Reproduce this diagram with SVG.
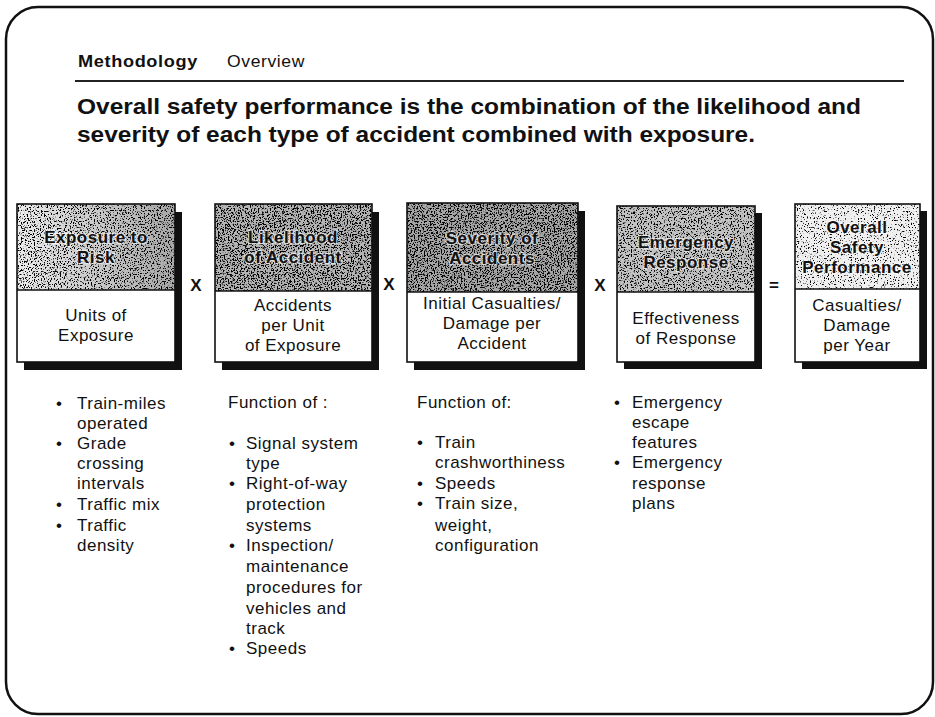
<svg xmlns="http://www.w3.org/2000/svg" width="935" height="717" viewBox="0 0 935 717">
<style>
  text { font-family: "Liberation Sans", Arial, Helvetica, sans-serif; fill: #111; }
  .hd { font-size: 17px; font-weight: bold; letter-spacing: 0.6px; }
  .hd2 { font-size: 17px; letter-spacing: 0.6px; }
  .title { font-size: 22px; font-weight: bold; }
  .bh { font-size: 17px; font-weight: bold; text-anchor: middle; letter-spacing: 0.5px; paint-order: stroke; stroke: #fff; stroke-opacity: 0.6; stroke-width: 2.5px; stroke-linejoin: round; }
  .bl { font-size: 17px; text-anchor: middle; letter-spacing: 0.5px; }
  .op { font-size: 17px; font-weight: bold; text-anchor: middle; }
  .li { font-size: 17px; letter-spacing: 0.5px; }
  .frame { fill: none; stroke: #111; stroke-width: 2.5; }
  .box { fill: none; stroke: #111; stroke-width: 1.6; }
  .lower { fill: #fff; }
  .shadow { fill: #111; }
</style>
<defs>
  <linearGradient id="g1" x1="0" y1="0" x2="1" y2="0">
    <stop offset="0" stop-color="#ececec"/>
    <stop offset="1" stop-color="#a8a8a8"/>
  </linearGradient>
  <filter id="dense" x="0" y="0" width="100%" height="100%" color-interpolation-filters="sRGB">
    <feTurbulence type="fractalNoise" baseFrequency="0.7" numOctaves="2" seed="4" result="n"/>
    <feColorMatrix in="n" type="matrix" values="0 0 0 0 0  0 0 0 0 0  0 0 0 0 0  -10 0 0 0 4.9" result="d"/>
    <feComposite in="d" in2="SourceGraphic" operator="in" result="d2"/>
    <feMerge><feMergeNode in="SourceGraphic"/><feMergeNode in="d2"/></feMerge>
  </filter>
  <filter id="medium" x="0" y="0" width="100%" height="100%" color-interpolation-filters="sRGB">
    <feTurbulence type="fractalNoise" baseFrequency="0.7" numOctaves="2" seed="9" result="n"/>
    <feColorMatrix in="n" type="matrix" values="0 0 0 0 0  0 0 0 0 0  0 0 0 0 0  -10 0 0 0 4.5" result="d"/>
    <feComposite in="d" in2="SourceGraphic" operator="in" result="d2"/>
    <feMerge><feMergeNode in="SourceGraphic"/><feMergeNode in="d2"/></feMerge>
  </filter>
  <filter id="light" x="0" y="0" width="100%" height="100%" color-interpolation-filters="sRGB">
    <feTurbulence type="fractalNoise" baseFrequency="0.7" numOctaves="2" seed="2" result="n"/>
    <feColorMatrix in="n" type="matrix" values="0 0 0 0 0  0 0 0 0 0  0 0 0 0 0  -10 0 0 0 4.0" result="d"/>
    <feComposite in="d" in2="SourceGraphic" operator="in" result="d2"/>
    <feMerge><feMergeNode in="SourceGraphic"/><feMergeNode in="d2"/></feMerge>
  </filter>
</defs>

<rect class="frame" x="6" y="7" width="927" height="707" rx="32" ry="32"/>

<g id="header">
  <text class="hd" x="78" y="67" textLength="120" lengthAdjust="spacingAndGlyphs">Methodology</text>
  <text class="hd2" x="227" y="67" textLength="78" lengthAdjust="spacingAndGlyphs">Overview</text>
  <line x1="75" y1="81" x2="904" y2="81" stroke="#222" stroke-width="2"/>
  <text class="title" x="77" y="114" textLength="784" lengthAdjust="spacingAndGlyphs">Overall safety performance is the combination of the likelihood and</text>
  <text class="title" x="77" y="142" textLength="678" lengthAdjust="spacingAndGlyphs">severity of each type of accident combined with exposure.</text>
</g>

<g id="box-exposure">
  <rect class="shadow" x="24" y="212" width="158" height="158"/>
  <rect x="17" y="204" width="158" height="86" fill="url(#g1)" filter="url(#medium)"/>
  <rect class="lower" x="17" y="290" width="158" height="72"/>
  <rect class="box" x="17" y="204" width="158" height="158"/>
  <line x1="17" y1="290" x2="175" y2="290" stroke="#111" stroke-width="1.6"/>
  <text class="bh" x="96" y="243">Exposure to</text>
  <text class="bh" x="96" y="263">Risk</text>
  <text class="bl" x="96" y="321">Units of</text>
  <text class="bl" x="96" y="341">Exposure</text>
</g>

<g id="box-likelihood">
  <rect class="shadow" x="222" y="212" width="157" height="158"/>
  <rect x="215" y="204" width="157" height="87" fill="#b4b4b4" filter="url(#dense)"/>
  <rect class="lower" x="215" y="291" width="157" height="71"/>
  <rect class="box" x="215" y="204" width="157" height="158"/>
  <line x1="215" y1="291" x2="372" y2="291" stroke="#111" stroke-width="1.6"/>
  <text class="bh" x="293" y="243">Likelihood</text>
  <text class="bh" x="293" y="263">of Accident</text>
  <text class="bl" x="293" y="311">Accidents</text>
  <text class="bl" x="293" y="331">per Unit</text>
  <text class="bl" x="293" y="351">of Exposure</text>
</g>

<g id="box-severity">
  <rect class="shadow" x="414" y="211" width="171" height="159"/>
  <rect x="407" y="203" width="171" height="89" fill="#a6a6a6" filter="url(#dense)"/>
  <rect class="lower" x="407" y="292" width="171" height="70"/>
  <rect class="box" x="407" y="203" width="171" height="159"/>
  <line x1="407" y1="292" x2="578" y2="292" stroke="#111" stroke-width="1.6"/>
  <text class="bh" x="492" y="244">Severity of</text>
  <text class="bh" x="492" y="264">Accidents</text>
  <text class="bl" x="492" y="309">Initial Casualties/</text>
  <text class="bl" x="492" y="329">Damage per</text>
  <text class="bl" x="492" y="349">Accident</text>
</g>

<g id="box-emergency">
  <rect class="shadow" x="624" y="213" width="138" height="156"/>
  <rect x="617" y="206" width="138" height="86" fill="#c2c2c2" filter="url(#medium)"/>
  <rect class="lower" x="617" y="292" width="138" height="70"/>
  <rect class="box" x="617" y="206" width="138" height="156"/>
  <line x1="617" y1="292" x2="755" y2="292" stroke="#111" stroke-width="1.6"/>
  <text class="bh" x="686" y="248">Emergency</text>
  <text class="bh" x="686" y="268">Response</text>
  <text class="bl" x="686" y="324">Effectiveness</text>
  <text class="bl" x="686" y="344">of Response</text>
</g>

<g id="box-overall">
  <rect class="shadow" x="802" y="211" width="125" height="158"/>
  <rect x="795" y="204" width="125" height="85" fill="#efefef" filter="url(#light)"/>
  <rect class="lower" x="795" y="289" width="125" height="73"/>
  <rect class="box" x="795" y="204" width="125" height="158"/>
  <line x1="795" y1="289" x2="920" y2="289" stroke="#111" stroke-width="1.6"/>
  <text class="bh" x="857" y="233">Overall</text>
  <text class="bh" x="857" y="253">Safety</text>
  <text class="bh" x="857" y="273" letter-spacing="0">Performance</text>
  <text class="bl" x="857" y="311">Casualties/</text>
  <text class="bl" x="857" y="331">Damage</text>
  <text class="bl" x="857" y="351">per Year</text>
</g>

<g id="connectors">
  <text class="op" x="196" y="291">X</text>
  <text class="op" x="389" y="290">X</text>
  <text class="op" x="600" y="291">X</text>
  <text class="op" x="774" y="291">=</text>
</g>

<g id="list-exposure">
  <text class="li" x="56" y="409">•</text>
  <text class="li" x="77" y="409">Train-miles</text>
  <text class="li" x="77" y="429">operated</text>
  <text class="li" x="56" y="449">•</text>
  <text class="li" x="77" y="449">Grade</text>
  <text class="li" x="77" y="469">crossing</text>
  <text class="li" x="77" y="489">intervals</text>
  <text class="li" x="56" y="510">•</text>
  <text class="li" x="77" y="510">Traffic mix</text>
  <text class="li" x="56" y="531">•</text>
  <text class="li" x="77" y="531">Traffic</text>
  <text class="li" x="77" y="551">density</text>
</g>

<g id="list-likelihood">
  <text class="li" x="228" y="408">Function of :</text>
  <text class="li" x="229" y="449">•</text>
  <text class="li" x="246" y="449">Signal system</text>
  <text class="li" x="246" y="469">type</text>
  <text class="li" x="229" y="489">•</text>
  <text class="li" x="246" y="489">Right-of-way</text>
  <text class="li" x="246" y="510">protection</text>
  <text class="li" x="246" y="531">systems</text>
  <text class="li" x="229" y="551">•</text>
  <text class="li" x="246" y="551">Inspection/</text>
  <text class="li" x="246" y="572">maintenance</text>
  <text class="li" x="246" y="593">procedures for</text>
  <text class="li" x="246" y="614">vehicles and</text>
  <text class="li" x="246" y="634">track</text>
  <text class="li" x="229" y="654">•</text>
  <text class="li" x="246" y="654">Speeds</text>
</g>

<g id="list-severity">
  <text class="li" x="417" y="408">Function of:</text>
  <text class="li" x="417" y="448">•</text>
  <text class="li" x="435" y="448">Train</text>
  <text class="li" x="435" y="468">crashworthiness</text>
  <text class="li" x="417" y="489">•</text>
  <text class="li" x="435" y="489">Speeds</text>
  <text class="li" x="417" y="509">•</text>
  <text class="li" x="435" y="509">Train size,</text>
  <text class="li" x="435" y="531">weight,</text>
  <text class="li" x="435" y="551">configuration</text>
</g>

<g id="list-emergency">
  <text class="li" x="614" y="408">•</text>
  <text class="li" x="632" y="408">Emergency</text>
  <text class="li" x="632" y="428">escape</text>
  <text class="li" x="632" y="448">features</text>
  <text class="li" x="614" y="468">•</text>
  <text class="li" x="632" y="468">Emergency</text>
  <text class="li" x="632" y="489">response</text>
  <text class="li" x="632" y="509">plans</text>
</g>
</svg>
